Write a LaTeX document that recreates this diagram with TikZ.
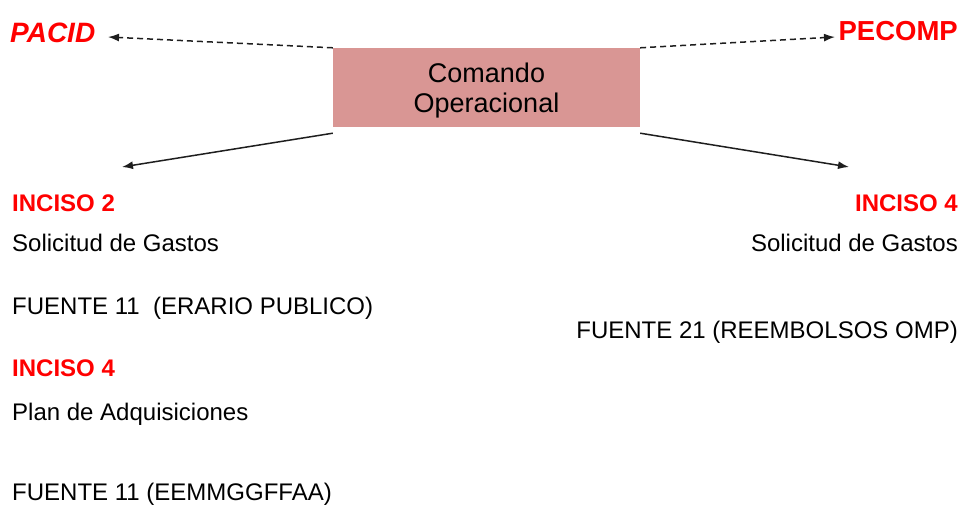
\documentclass[tikz,border=0pt]{standalone}
\usepackage{fontspec}
\setmainfont{Liberation Sans}
\usetikzlibrary{arrows.meta}
\definecolor{boxfill}{RGB}{217,150,148}
\definecolor{hotred}{RGB}{255,0,0}
\definecolor{inkgray}{RGB}{30,30,30}
\begin{document}
\begin{tikzpicture}[x=1pt,y=-1pt,
  cmdbox/.style={fill=boxfill,draw=none,minimum width=307pt,minimum height=79pt,inner sep=0pt,text depth=0pt,align=center,font=\fontsize{27}{30}\selectfont},
  redtag/.style={text=hotred,inner sep=0pt,font=\fontsize{24}{28}\bfseries},
  bigtag/.style={text=hotred,inner sep=0pt,font=\fontsize{27.5}{30}\bfseries},
  plain/.style={text=black,inner sep=0pt,font=\fontsize{24}{28}\selectfont},
  dasharrow/.style={draw=inkgray,line width=1.5pt,dash pattern=on 6pt off 4pt,-{Latex[length=11pt,width=8pt]}},
  solidarrow/.style={draw=inkgray,line width=1.5pt,-{Latex[length=11pt,width=8pt]}}
]
\useasboundingbox (0,0) rectangle (962,505);

\node[cmdbox] (cmd) at (486.5,87.5) {Comando\\Operacional};

\node[bigtag,anchor=base west,font=\fontsize{28}{30}\bfseries\itshape] (pacid) at (10,43) {PACID};
\node[bigtag,anchor=base east] (pecomp) at (958,41) {PECOMP};

\node[redtag,anchor=base west] (inc2) at (12,212) {INCISO 2};
\node[plain,anchor=base west] (solL) at (12,252) {Solicitud de Gastos};
\node[plain,anchor=base west] (f11a) at (12,315) {FUENTE 11\ \ (ERARIO PUBLICO)};
\node[redtag,anchor=base west] (inc4L) at (12,376) {INCISO 4};
\node[plain,anchor=base west] (plan) at (12,420) {Plan de Adquisiciones};
\node[plain,anchor=base west] (f11b) at (12,500) {FUENTE 11 (EEMMGGFFAA)};

\node[redtag,anchor=base east] (inc4R) at (958,212) {INCISO 4};
\node[plain,anchor=base east] (solR) at (958,252) {Solicitud de Gastos};
\node[plain,anchor=base east] (f21) at (958,338) {FUENTE 21 (REEMBOLSOS OMP)};

\coordinate (pacidtip) at (108,37);
\coordinate (pecomptip) at (835,37);
\coordinate (lefttip) at (122,167);
\coordinate (righttip) at (849,167);

\draw[dasharrow] (cmd.north west) -- (pacidtip);
\draw[dasharrow] (cmd.north east) -- (pecomptip);
\draw[solidarrow] ([yshift=-6pt]cmd.south west) -- (lefttip);
\draw[solidarrow] ([yshift=-6pt]cmd.south east) -- (righttip);
\end{tikzpicture}
\end{document}
